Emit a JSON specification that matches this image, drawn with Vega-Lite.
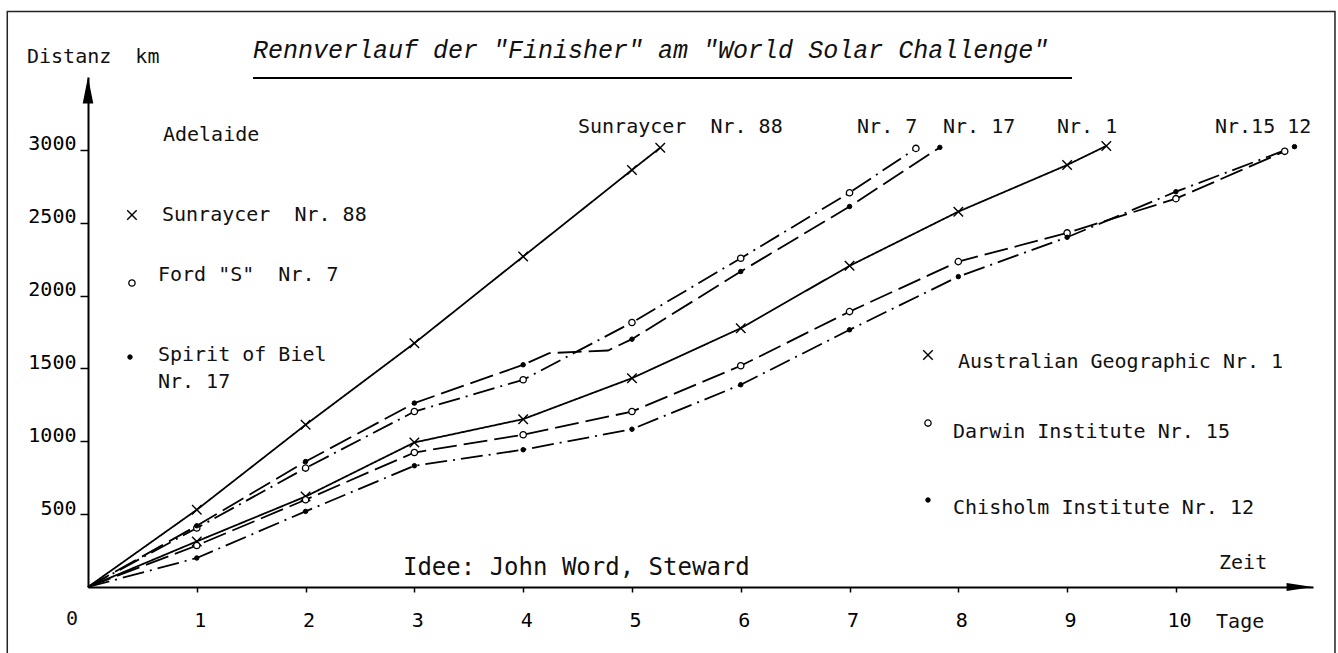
{
  "$schema": "https://vega.github.io/schema/vega-lite/v6.json",
  "width": 1225,
  "height": 510,
  "autosize": {"type": "none"},
  "padding": {"left": 88, "top": 77, "right": 25, "bottom": 66},
  "background": "white",
  "config": {"view": {"stroke": null}},
  "datasets": {
    "race": [
      {"car": "Sunraycer", "day": 0, "km": 0, "obs": "start"},
      {"car": "Sunraycer", "day": 1, "km": 530, "obs": "daily"},
      {"car": "Sunraycer", "day": 2, "km": 1113, "obs": "daily"},
      {"car": "Sunraycer", "day": 3, "km": 1673, "obs": "daily"},
      {"car": "Sunraycer", "day": 4, "km": 2268, "obs": "daily"},
      {"car": "Sunraycer", "day": 5, "km": 2862, "obs": "daily"},
      {"car": "Sunraycer", "day": 5.26, "km": 3015, "obs": "finish"},
      {"car": "Ford S", "day": 0, "km": 0, "obs": "start"},
      {"car": "Ford S", "day": 1, "km": 405, "obs": "daily"},
      {"car": "Ford S", "day": 2, "km": 816, "obs": "daily"},
      {"car": "Ford S", "day": 3, "km": 1204, "obs": "daily"},
      {"car": "Ford S", "day": 4, "km": 1422, "obs": "daily"},
      {"car": "Ford S", "day": 5, "km": 1815, "obs": "daily"},
      {"car": "Ford S", "day": 6, "km": 2256, "obs": "daily"},
      {"car": "Ford S", "day": 7, "km": 2706, "obs": "daily"},
      {"car": "Ford S", "day": 7.61, "km": 3010, "obs": "finish"},
      {"car": "Spirit of Biel", "day": 0, "km": 0, "obs": "start"},
      {"car": "Spirit of Biel", "day": 1, "km": 420, "obs": "daily"},
      {"car": "Spirit of Biel", "day": 2, "km": 861, "obs": "daily"},
      {"car": "Spirit of Biel", "day": 3, "km": 1262, "obs": "daily"},
      {"car": "Spirit of Biel", "day": 4, "km": 1525, "obs": "daily"},
      {"car": "Spirit of Biel", "day": 4.24, "km": 1605, "obs": "trace"},
      {"car": "Spirit of Biel", "day": 4.78, "km": 1623, "obs": "trace"},
      {"car": "Spirit of Biel", "day": 5, "km": 1701, "obs": "daily"},
      {"car": "Spirit of Biel", "day": 6, "km": 2165, "obs": "daily"},
      {"car": "Spirit of Biel", "day": 7, "km": 2611, "obs": "daily"},
      {"car": "Spirit of Biel", "day": 7.83, "km": 3017, "obs": "finish"},
      {"car": "Australian Geographic", "day": 0, "km": 0, "obs": "start"},
      {"car": "Australian Geographic", "day": 1, "km": 313, "obs": "daily"},
      {"car": "Australian Geographic", "day": 2, "km": 621, "obs": "daily"},
      {"car": "Australian Geographic", "day": 3, "km": 992, "obs": "daily"},
      {"car": "Australian Geographic", "day": 4, "km": 1152, "obs": "daily"},
      {"car": "Australian Geographic", "day": 5, "km": 1433, "obs": "daily"},
      {"car": "Australian Geographic", "day": 6, "km": 1776, "obs": "daily"},
      {"car": "Australian Geographic", "day": 7, "km": 2204, "obs": "daily"},
      {"car": "Australian Geographic", "day": 8, "km": 2576, "obs": "daily"},
      {"car": "Australian Geographic", "day": 9, "km": 2896, "obs": "daily"},
      {"car": "Australian Geographic", "day": 9.36, "km": 3027, "obs": "finish"},
      {"car": "Darwin Institute", "day": 0, "km": 0, "obs": "start"},
      {"car": "Darwin Institute", "day": 1, "km": 285, "obs": "daily"},
      {"car": "Darwin Institute", "day": 2, "km": 599, "obs": "daily"},
      {"car": "Darwin Institute", "day": 3, "km": 923, "obs": "daily"},
      {"car": "Darwin Institute", "day": 4, "km": 1045, "obs": "daily"},
      {"car": "Darwin Institute", "day": 5, "km": 1204, "obs": "daily"},
      {"car": "Darwin Institute", "day": 6, "km": 1518, "obs": "daily"},
      {"car": "Darwin Institute", "day": 7, "km": 1890, "obs": "daily"},
      {"car": "Darwin Institute", "day": 8, "km": 2233, "obs": "daily"},
      {"car": "Darwin Institute", "day": 9, "km": 2430, "obs": "daily"},
      {"car": "Darwin Institute", "day": 10, "km": 2665, "obs": "daily"},
      {"car": "Darwin Institute", "day": 11.0, "km": 2990, "obs": "finish"},
      {"car": "Chisholm Institute", "day": 0, "km": 0, "obs": "start"},
      {"car": "Chisholm Institute", "day": 1, "km": 199, "obs": "daily"},
      {"car": "Chisholm Institute", "day": 2, "km": 519, "obs": "daily"},
      {"car": "Chisholm Institute", "day": 3, "km": 832, "obs": "daily"},
      {"car": "Chisholm Institute", "day": 4, "km": 942, "obs": "daily"},
      {"car": "Chisholm Institute", "day": 5, "km": 1083, "obs": "daily"},
      {"car": "Chisholm Institute", "day": 6, "km": 1388, "obs": "daily"},
      {"car": "Chisholm Institute", "day": 7, "km": 1765, "obs": "daily"},
      {"car": "Chisholm Institute", "day": 8, "km": 2130, "obs": "daily"},
      {"car": "Chisholm Institute", "day": 9, "km": 2400, "obs": "daily"},
      {"car": "Chisholm Institute", "day": 10, "km": 2713, "obs": "daily"},
      {"car": "Chisholm Institute", "day": 11.09, "km": 3022, "obs": "finish"},
      {"car": "Sunraycer", "day": 0.404, "km": 2553, "obs": "key"},
      {"car": "Ford S", "day": 0.404, "km": 2086, "obs": "key"},
      {"car": "Spirit of Biel", "day": 0.386, "km": 1578, "obs": "key"},
      {"car": "Australian Geographic", "day": 7.721, "km": 1592, "obs": "key"},
      {"car": "Darwin Institute", "day": 7.721, "km": 1125, "obs": "key"},
      {"car": "Chisholm Institute", "day": 7.721, "km": 597, "obs": "key"}
    ],
    "notes": [
      {"role": "title", "text": "Rennverlauf der \"Finisher\" am \"World Solar Challenge\"", "day": 1.517, "km": 3685},
      {"role": "credit", "text": "Idee: John Word, Steward", "day": 2.895, "km": 130},
      {"role": "label", "text": "Distanz \u00a0km", "day": -0.561, "km": 3637},
      {"role": "label", "text": "Adelaide", "day": 0.689, "km": 3102},
      {"role": "label", "text": "Sunraycer \u00a0Nr. 88", "day": 0.68, "km": 2553},
      {"role": "label", "text": "Ford \"S\" \u00a0Nr. 7", "day": 0.643, "km": 2141},
      {"role": "label", "text": "Spirit of Biel", "day": 0.643, "km": 1592},
      {"role": "label", "text": "Nr. 17", "day": 0.643, "km": 1407},
      {"role": "label", "text": "Australian Geographic Nr. 1", "day": 7.997, "km": 1544},
      {"role": "label", "text": "Darwin Institute Nr. 15", "day": 7.951, "km": 1064},
      {"role": "label", "text": "Chisholm Institute Nr. 12", "day": 7.951, "km": 542},
      {"role": "label", "text": "Sunraycer \u00a0Nr. 88", "day": 4.504, "km": 3157},
      {"role": "label", "text": "Nr. 7", "day": 7.069, "km": 3157},
      {"role": "label", "text": "Nr. 17", "day": 7.859, "km": 3157},
      {"role": "label", "text": "Nr. 1", "day": 8.907, "km": 3157},
      {"role": "label", "text": "Nr.15 12", "day": 10.359, "km": 3157},
      {"role": "label", "text": "Zeit", "day": 10.396, "km": 165},
      {"role": "label", "text": "Tage", "day": 10.369, "km": -240},
      {"role": "label", "text": "0", "day": -0.202, "km": -220}
    ],
    "frame": [
      {"day": -0.742, "day2": 11.462, "km": 3950, "km2": -520}
    ],
    "underline": [
      {"day": 1.517, "day2": 9.045, "km": 3493}
    ],
    "arrows": [
      {"dir": "up", "day": 0, "km": 3500},
      {"dir": "right", "day": 11.26, "km": 0}
    ]
  },
  "encoding": {
    "x": {
      "field": "day", "type": "quantitative",
      "scale": {"domain": [0, 11.26], "nice": false, "zero": false},
      "axis": {
        "values": [1, 2, 3, 4, 5, 6, 7, 8, 9, 10],
        "title": null, "grid": false, "format": "d",
        "labelFont": "DejaVu Sans Mono", "labelFontSize": 20, "labelColor": "black",
        "labelPadding": 18, "labelOffset": 3, "labelFlush": false, "labelOverlap": false,
        "tickSize": 5, "tickWidth": 1.5, "tickColor": "black",
        "domainColor": "black", "domainWidth": 2
      }
    },
    "y": {
      "field": "km", "type": "quantitative",
      "scale": {"domain": [0, 3500], "nice": false, "zero": false},
      "axis": {
        "values": [500, 1000, 1500, 2000, 2500, 3000],
        "title": null, "grid": false, "format": "d",
        "labelFont": "DejaVu Sans Mono", "labelFontSize": 20, "labelColor": "black",
        "labelPadding": 4, "labelBaseline": "alphabetic", "labelFlush": false, "labelOverlap": false,
        "tickSize": 8, "tickWidth": 1.5, "tickColor": "black",
        "domainColor": "black", "domainWidth": 2
      }
    }
  },
  "layer": [
    {
      "data": {"name": "frame"},
      "mark": {"type": "rect", "fill": null, "filled": false, "stroke": "#222", "strokeWidth": 1.5, "clip": false},
      "encoding": {"x2": {"field": "day2"}, "y2": {"field": "km2"}}
    },
    {
      "data": {"name": "underline"},
      "mark": {"type": "rule", "stroke": "black", "strokeWidth": 2},
      "encoding": {"x2": {"field": "day2"}}
    },
    {
      "data": {"name": "race"},
      "transform": [{"filter": "datum.obs !== 'key'"}],
      "mark": {"type": "line", "stroke": "black", "strokeWidth": 1.8},
      "encoding": {
        "detail": {"field": "car"},
        "order": {"field": "day", "type": "quantitative"},
        "strokeDash": {
          "field": "car", "type": "nominal", "legend": null,
          "scale": {
            "domain": ["Sunraycer", "Ford S", "Spirit of Biel", "Australian Geographic", "Darwin Institute", "Chisholm Institute"],
            "range": [[1, 0], [22, 6, 2, 6], [24, 7], [1, 0], [24, 7], [22, 6, 2, 6]]
          }
        }
      }
    },
    {
      "data": {"name": "race"},
      "transform": [
        {"filter": "datum.obs === 'daily' || datum.obs === 'finish' || datum.obs === 'key'"},
        {"filter": {"field": "car", "oneOf": ["Sunraycer", "Australian Geographic"]}}
      ],
      "mark": {"type": "point", "filled": false, "stroke": "black", "strokeWidth": 1.4, "opacity": 1, "size": 90, "shape": "M-1,-1L1,1M-1,1L1,-1"}
    },
    {
      "data": {"name": "race"},
      "transform": [
        {"filter": "datum.obs === 'daily' || datum.obs === 'finish' || datum.obs === 'key'"},
        {"filter": {"field": "car", "oneOf": ["Ford S", "Darwin Institute"]}}
      ],
      "mark": {"type": "point", "filled": true, "fill": "white", "stroke": "black", "strokeWidth": 1.3, "opacity": 1, "size": 40, "shape": "circle"}
    },
    {
      "data": {"name": "race"},
      "transform": [
        {"filter": "datum.obs === 'daily' || datum.obs === 'finish' || datum.obs === 'key'"},
        {"filter": {"field": "car", "oneOf": ["Spirit of Biel", "Chisholm Institute"]}}
      ],
      "mark": {"type": "point", "filled": true, "fill": "black", "stroke": "black", "strokeWidth": 1, "opacity": 1, "size": 20, "shape": "circle"}
    },
    {
      "data": {"name": "arrows"},
      "transform": [{"filter": "datum.dir === 'up'"}],
      "mark": {"type": "point", "filled": true, "fill": "black", "strokeWidth": 0, "opacity": 1, "size": 700, "shape": "M0,0L0.4,2L-0.4,2Z"}
    },
    {
      "data": {"name": "arrows"},
      "transform": [{"filter": "datum.dir === 'right'"}],
      "mark": {"type": "point", "filled": true, "fill": "black", "strokeWidth": 0, "opacity": 1, "size": 700, "shape": "M0,0L-2,-0.3L-2,0.3Z"}
    },
    {
      "data": {"name": "notes"},
      "transform": [{"filter": "datum.role === 'label'"}],
      "mark": {"type": "text", "font": "DejaVu Sans Mono", "fontSize": 20, "align": "left", "baseline": "middle", "color": "#111"},
      "encoding": {"text": {"field": "text"}}
    },
    {
      "data": {"name": "notes"},
      "transform": [{"filter": "datum.role === 'credit'"}],
      "mark": {"type": "text", "font": "DejaVu Sans Mono", "fontSize": 24, "align": "left", "baseline": "middle", "color": "#111"},
      "encoding": {"text": {"field": "text"}}
    },
    {
      "data": {"name": "notes"},
      "transform": [{"filter": "datum.role === 'title'"}],
      "mark": {"type": "text", "font": "Liberation Mono", "fontStyle": "italic", "fontSize": 25, "align": "left", "baseline": "middle", "color": "#111"},
      "encoding": {"text": {"field": "text"}}
    }
  ]
}
